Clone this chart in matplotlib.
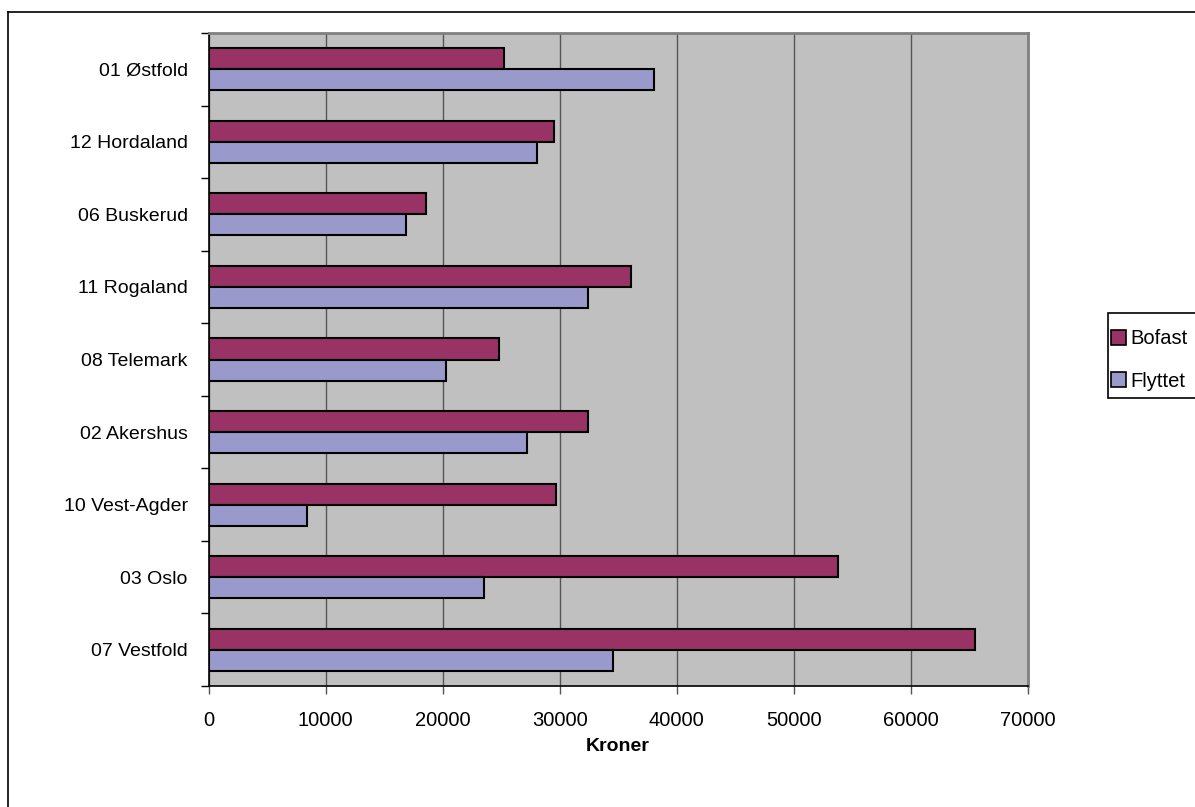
import numpy as np
import matplotlib
matplotlib.use('Agg')
import matplotlib.pyplot as plt
from matplotlib.lines import Line2D
from matplotlib.patches import Rectangle

plt.rcParams['font.family'] = ['Liberation Sans', 'DejaVu Sans']

# data, top to bottom as in the chart
fylker = ['01 Østfold', '12 Hordaland', '06 Buskerud', '11 Rogaland', '08 Telemark',
          '02 Akershus', '10 Vest-Agder', '03 Oslo', '07 Vestfold']
bofast = [25200, 29500, 18600, 36100, 24800, 32400, 29700, 53800, 65500]
flyttet = [38100, 28100, 16900, 32400, 20300, 27200, 8400, 23500, 34600]

c_bofast = '#993366'
c_flyttet = '#9999CC'

fig = plt.figure(figsize=(11.95, 8.07), dpi=100)
ax = fig.add_axes([0.1746, 0.150, 0.6854, 0.809])
ax.set_facecolor('#C0C0C0')

n = len(fylker)
y = np.arange(n)[::-1]
h = 0.29
ax.barh(y + h / 2, bofast, height=h, color=c_bofast, edgecolor='black', linewidth=1.5, label='Bofast', zorder=3)
ax.barh(y - h / 2, flyttet, height=h, color=c_flyttet, edgecolor='black', linewidth=1.5, label='Flyttet', zorder=3)

ax.set_xlim(0, 70000)
ax.set_ylim(-0.5, n - 0.5)
ax.set_xticks(np.arange(0, 70001, 10000))
ax.set_xticklabels([str(v) for v in range(0, 70001, 10000)], fontsize=14.5)
ax.xaxis.grid(True, color='#555555', linewidth=1, zorder=1)
ax.set_axisbelow(True)

ax.set_yticks(y)
ax.set_yticklabels(fylker, fontsize=14)
ax.set_yticks(np.arange(-0.5, n, 1), minor=True)
ax.tick_params(axis='y', which='major', length=0, pad=15)
ax.tick_params(axis='y', which='minor', length=6, width=1, color='black', direction='out')
ax.tick_params(axis='x', length=6, width=1, color='#555555', direction='out', pad=12)

for s in ['top', 'right']:
    ax.spines[s].set_color('#808080')
    ax.spines[s].set_linewidth(2)
for s in ['left', 'bottom']:
    ax.spines[s].set_color('black')
    ax.spines[s].set_linewidth(1.2)

ax.set_xlabel('Kroner', fontsize=14, fontweight='bold', labelpad=6)

# legend: box drawn separately so the padding matches
fig.add_artist(Rectangle((1108 / 1195, 1 - 398 / 807), 100 / 1195, 85 / 807,
                         transform=fig.transFigure, facecolor='white', edgecolor='black', linewidth=1.2))
handles = [Rectangle((0, 0), 1, 1, facecolor=c_bofast, edgecolor='black', linewidth=1.2),
           Rectangle((0, 0), 1, 1, facecolor=c_flyttet, edgecolor='black', linewidth=1.2)]
leg = fig.legend(handles, ['Bofast', 'Flyttet'], loc='center left',
                 bbox_to_anchor=(1108 / 1195, 1 - 360 / 807), fontsize=14.5,
                 frameon=False, handlelength=0.75, handleheight=0.75,
                 handletextpad=0.2, borderpad=0.15, labelspacing=1.15, borderaxespad=0)

# outer chart border (left and top visible)
fig.add_artist(Line2D([8 / 1195, 8 / 1195], [0, 1 - 12 / 807], transform=fig.transFigure, color='black', linewidth=1.2))
fig.add_artist(Line2D([8 / 1195, 1], [1 - 12 / 807, 1 - 12 / 807], transform=fig.transFigure, color='black', linewidth=1.2))

fig.savefig('out.png', dpi=100)
